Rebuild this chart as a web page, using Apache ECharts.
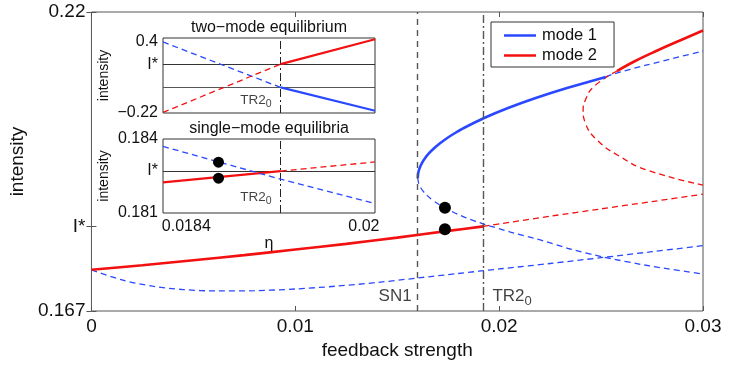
<!DOCTYPE html>
<html>
<head>
<meta charset="utf-8">
<script src="https://cdn.jsdelivr.net/npm/echarts@6/dist/echarts.min.js"></script>
<style>html,body{margin:0;padding:0;background:#fff}#c{width:747px;height:367px}</style>
</head>
<body>
<div id="c"></div>
<script>
// ---------------- data (main panel) ----------------
const xTicksMain = [0, 0.01, 0.02, 0.03];
const Istar = 0.182;
const yTicksMain = [0.167, Istar, 0.22];
const SN1 = 0.0160;
const TR2 = 0.01923;

const mode2StableLow = [[0,0.1743],[0.0025,0.1751],[0.005,0.1760],[0.0075,0.1769],[0.01,0.1779],[0.0125,0.1789],[0.015,0.1800],[0.0175,0.1812],[0.01923,0.1820]];
const mode2UnstableLow = [[0.01923,0.1820],[0.0225,0.1838],[0.025,0.1851],[0.0275,0.1864],[0.03,0.1877]];
const mode2UnstableNose = [[0.02578,0.20954],[0.02464,0.20676],[0.02423,0.2044],[0.02412,0.20263],[0.02423,0.20032],[0.0248,0.19731],[0.02594,0.19435],[0.02725,0.19199],[0.03,0.18933]];
const mode2StableHigh = [[0.025779,0.20954],[0.026673,0.21132],[0.02765,0.213],[0.028871,0.21495],[0.03,0.21672]];

const mode1UnstableBottom = [[0,0.1743],[0.0015,0.1725],[0.003,0.1714],[0.0045,0.1708],[0.0062,0.17055],[0.008,0.1706],[0.01,0.1709],[0.012,0.1714],[0.014,0.17205],[0.016,0.17285],[0.018,0.17365],[0.02,0.17445],[0.0225,0.17542],[0.025,0.17645],[0.0275,0.17751],[0.03,0.17858]];
const mode1UnstableFold = [[0.016009,0.19058],[0.016046,0.18969],[0.016158,0.1888],[0.016344,0.18792],[0.016605,0.18703],[0.01694,0.18614],[0.01735,0.18526],[0.017834,0.18437],[0.018393,0.18349],[0.019233,0.18242],[0.020552,0.181],[0.022018,0.17959],[0.023483,0.17799],[0.025095,0.17657],[0.027391,0.17498],[0.03,0.17356]];
const mode1StableUpper = [[0.016009,0.19058],[0.016031,0.19146],[0.016099,0.19235],[0.016212,0.19323],[0.01637,0.19412],[0.016574,0.19501],[0.016822,0.19589],[0.017116,0.19678],[0.017455,0.19767],[0.017839,0.19855],[0.018268,0.19944],[0.019262,0.20121],[0.020437,0.20298],[0.021793,0.20475],[0.023329,0.20653],[0.025227,0.20848]];
const mode1UnstableUpper = [[0.025227,0.20848],[0.02561,0.20901],[0.02725,0.21061],[0.03,0.21309]];
const mainDots = [[0.01734,0.1853],[0.01734,0.1815]];

// ---------------- data (inset 1: two-mode equilibrium) ----------------
const etaMin = 0.01819, etaMax = 0.0201;
const etaTicks = [0.0184, 0.02];
const TR2inset = 0.01925;
const Istar1 = 0.205;
const yTicksInset1 = [-0.22, Istar1, 0.4];
const in1Mode1Unstable = [[0.01819,0.40],[0.01925,0.0]];
const in1Mode1Stable = [[0.01925,0.0],[0.0201,-0.205]];
const in1Mode2Unstable = [[0.01819,-0.22],[0.01925,Istar1]];
const in1Mode2Stable = [[0.01925,Istar1],[0.0201,0.424]];

// ---------------- data (inset 2: single-mode equilibria) ----------------
const Istar2 = 0.1827;
const yTicksInset2 = [0.181, Istar2, 0.184];
const in2Mode2Stable = [[0.01819,0.18224],[0.01925,Istar2]];
const in2Mode2Unstable = [[0.01925,Istar2],[0.0201,0.18307]];
const in2Mode1Unstable = [[0.01819,0.1837],[0.01925,0.18237],[0.0201,0.18138]];
const in2Dots = [[0.01869,0.18306],[0.01869,0.18241]];

// ---------------- styling ----------------
const FONT = '"Liberation Sans", Arial, Helvetica, sans-serif';
const BLUE = '#2a48ff', RED = '#f21010';
const DASH = [6,4];
const DASHDOT = [8,3,2,3];

function lineSeries(name, data, color, solid, xi, yi, extra) {
  return Object.assign({
    type:'line', name, data, xAxisIndex:xi, yAxisIndex:yi,
    symbol:'none', showSymbol:false, smooth:0.3, silent:true,
    lineStyle:{color, width: solid?2.6:1.3, type: solid?'solid':DASH},
    itemStyle:{color}, z: solid?4:3
  }, extra||{});
}
function fmtNum(v, istar) {
  if (istar !== undefined && Math.abs(v - istar) < 1e-9) return 'I*';
  if (v < 0) return '\u2212' + String(-v);
  return String(v);
}

const chart = echarts.init(document.getElementById('c'), null, {renderer:'canvas'});
const tickLbl = {fontFamily:FONT, color:'#111'};
const mlBase = {silent:true, symbol:['none','none'], label:{show:false}, precision:6, animation:false};

const option = {
  animation:false,
  textStyle:{fontFamily:FONT},
  grid:[
    {left:89, top:12, width:614, height:299, show:true, borderColor:'#555', borderWidth:1, backgroundColor:'transparent'},
    {left:163, top:38, width:212, height:75, show:true, borderColor:'#333', borderWidth:1, backgroundColor:'#fff', z:5},
    {left:163, top:139, width:212, height:74, show:true, borderColor:'#333', borderWidth:1, backgroundColor:'#fff', z:5}
  ],
  xAxis:[
    {type:'value', gridIndex:0, min:0, max:0.03, interval:0.01, axisLine:{show:false},
     axisTick:{inside:true, length:5, lineStyle:{color:'#555'}}, splitLine:{show:false},
     axisLabel:Object.assign({fontSize:19, margin:6, formatter:v=>v===0?'0':String(+v.toFixed(4))}, tickLbl),
     name:'feedback strength', nameLocation:'middle', nameGap:28,
     nameTextStyle:{fontSize:19, color:'#111', fontFamily:FONT}},
    {type:'value', gridIndex:0, position:'top', min:0, max:0.03, interval:0.01, axisLine:{show:false},
     axisTick:{inside:true, length:5, lineStyle:{color:'#555'}}, axisLabel:{show:false}, splitLine:{show:false}},
    {type:'value', gridIndex:1, min:etaMin, max:etaMax, axisLine:{show:false}, axisTick:{show:false},
     axisLabel:{show:false}, splitLine:{show:false}},
    {type:'value', gridIndex:2, min:etaMin, max:etaMax, axisLine:{show:false},
     axisTick:{show:false}, splitLine:{show:false},
     axisLabel:Object.assign({fontSize:16, margin:6, customValues:etaTicks, formatter:v=>String(+v.toFixed(4))}, tickLbl),
     name:'\u03b7', nameLocation:'middle', nameGap:16, nameTextStyle:{fontSize:16, color:'#111', fontFamily:FONT}}
  ],
  yAxis:[
    {type:'value', gridIndex:0, min:0.167, max:0.22, axisLine:{show:false}, splitLine:{show:false},
     axisTick:{inside:true, length:5, customValues:yTicksMain, lineStyle:{color:'#555'}},
     axisLabel:Object.assign({fontSize:19, margin:6, customValues:yTicksMain, formatter:v=>fmtNum(v, Istar)}, tickLbl),
     name:'intensity', nameLocation:'middle', nameGap:58,
     nameTextStyle:{fontSize:19, color:'#111', fontFamily:FONT}},
    {type:'value', gridIndex:0, position:'right', min:0.167, max:0.22, axisLine:{show:false}, splitLine:{show:false},
     axisTick:{inside:true, length:5, customValues:yTicksMain, lineStyle:{color:'#555'}},
     axisLabel:{show:false, customValues:yTicksMain}},
    {type:'value', gridIndex:1, min:-0.225, max:0.435, axisLine:{show:false}, splitLine:{show:false},
     axisTick:{show:false},
     axisLabel:Object.assign({fontSize:16, margin:5, customValues:yTicksInset1, formatter:v=>fmtNum(v, Istar1)}, tickLbl),
     name:'intensity', nameLocation:'middle', nameGap:52,
     nameTextStyle:{fontSize:14, color:'#111', fontFamily:FONT}},
    {type:'value', gridIndex:2, min:0.181, max:0.184, axisLine:{show:false}, splitLine:{show:false},
     axisTick:{show:false},
     axisLabel:Object.assign({fontSize:16, margin:5, customValues:yTicksInset2, formatter:v=>fmtNum(v, Istar2)}, tickLbl),
     name:'intensity', nameLocation:'middle', nameGap:52,
     nameTextStyle:{fontSize:14, color:'#111', fontFamily:FONT}}
  ],
  legend:{
    data:['mode 1','mode 2'], orient:'vertical', left:491, top:22, icon:'rect',
    backgroundColor:'#fff', borderColor:'#333', borderWidth:1, borderRadius:0,
    padding:[5,17,3,13], itemWidth:32, itemHeight:2.5, itemGap:3,
    textStyle:{fontSize:16.5, color:'#111', fontFamily:FONT, padding:[0,0,0,1]}, selectedMode:false, z:10
  },
  graphic:[
    {type:'text', x:269, y:20, z:20, style:{text:'two\u2212mode equilibrium', font:'16px '+FONT, fill:'#111', textAlign:'center'}},
    {type:'text', x:269, y:121, z:20, style:{text:'single\u2212mode equilibria', font:'16px '+FONT, fill:'#111', textAlign:'center'}}
  ],
  series:[
    // main panel
    lineSeries('mode 1', mode1StableUpper, BLUE, true, 0, 0, {smooth:0.2}),
    lineSeries('mode 2', mode2StableLow, RED, true, 0, 0),
    lineSeries('m2 high', mode2StableHigh, RED, true, 0, 0, {smooth:0.4}),
    lineSeries('m1 fold', mode1UnstableFold, BLUE, false, 0, 0, {smooth:0.2}),
    lineSeries('m1 bottom', mode1UnstableBottom, BLUE, false, 0, 0),
    lineSeries('m1 upper', mode1UnstableUpper, BLUE, false, 0, 0),
    lineSeries('m2 low', mode2UnstableLow, RED, false, 0, 0),
    lineSeries('m2 nose', mode2UnstableNose, RED, false, 0, 0, {smooth:0.5,
      markLine:Object.assign({}, mlBase, {data:[
        {xAxis:SN1, lineStyle:{color:'#555', width:1.4, type:[6,5]}},
        {xAxis:TR2, lineStyle:{color:'#555', width:1.4, type:DASHDOT}}
      ]})
    }),
    {type:'scatter', name:'dots', data:mainDots, xAxisIndex:0, yAxisIndex:0, symbolSize:12,
     itemStyle:{color:'#000', opacity:1}, silent:true, z:6},
    {type:'scatter', name:'labels', xAxisIndex:0, yAxisIndex:0, symbolSize:0, silent:true,
     data:[
       {value:[SN1, 0.1696], label:{show:true, position:'left', distance:6, formatter:'SN1'}},
       {value:[TR2, 0.1696], label:{show:true, position:'right', distance:9, formatter:'TR2{s|0}'}}
     ],
     label:{fontSize:17, color:'#111', fontFamily:FONT, rich:{s:{fontSize:13, padding:[10,0,0,0], fontFamily:FONT, color:'#111'}}}},
    // inset 1
    lineSeries('i1 m1u', in1Mode1Unstable, BLUE, false, 2, 2, {smooth:false, z:12,
      markLine:Object.assign({}, mlBase, {data:[
        {yAxis:Istar1, lineStyle:{color:'#333', width:1, type:'solid'}},
        {yAxis:0, lineStyle:{color:'#555', width:1, type:'solid'}},
        {xAxis:TR2inset, lineStyle:{color:'#222', width:1, type:DASHDOT}}
      ]})}),
    lineSeries('i1 m1s', in1Mode1Stable, BLUE, true, 2, 2, {smooth:false, z:12, lineStyle:{color:BLUE, width:2.2, type:'solid'}}),
    lineSeries('i1 m2u', in1Mode2Unstable, RED, false, 2, 2, {smooth:false, z:12}),
    lineSeries('i1 m2s', in1Mode2Stable, RED, true, 2, 2, {smooth:false, z:12, lineStyle:{color:RED, width:2.2, type:'solid'}}),
    {type:'scatter', xAxisIndex:2, yAxisIndex:2, symbolSize:0, silent:true, z:12,
     data:[{value:[TR2inset, -0.11], label:{show:true, position:'left', distance:9, formatter:'TR2{s|0}'}}],
     label:{fontSize:13.5, color:'#111', fontFamily:FONT, rich:{s:{fontSize:10.5, padding:[9,0,0,0], fontFamily:FONT, color:'#111'}}}},
    // inset 2
    lineSeries('i2 m2s', in2Mode2Stable, RED, true, 3, 3, {smooth:false, z:12, lineStyle:{color:RED, width:2.2, type:'solid'},
      markLine:Object.assign({}, mlBase, {data:[
        {yAxis:Istar2, lineStyle:{color:'#333', width:1, type:'solid'}},
        {xAxis:TR2inset, lineStyle:{color:'#222', width:1, type:DASHDOT}}
      ]})}),
    lineSeries('i2 m2u', in2Mode2Unstable, RED, false, 3, 3, {smooth:false, z:12}),
    lineSeries('i2 m1u', in2Mode1Unstable, BLUE, false, 3, 3, {smooth:false, z:12}),
    {type:'scatter', name:'dots2', data:in2Dots, xAxisIndex:3, yAxisIndex:3, symbolSize:11,
     itemStyle:{color:'#000', opacity:1}, silent:true, z:13},
    {type:'scatter', xAxisIndex:3, yAxisIndex:3, symbolSize:0, silent:true, z:12,
     data:[{value:[TR2inset, 0.18165], label:{show:true, position:'left', distance:9, formatter:'TR2{s|0}'}}],
     label:{fontSize:13.5, color:'#111', fontFamily:FONT, rich:{s:{fontSize:10.5, padding:[9,0,0,0], fontFamily:FONT, color:'#111'}}}}
  ]
};
chart.setOption(option);
</script>
</body>
</html>
